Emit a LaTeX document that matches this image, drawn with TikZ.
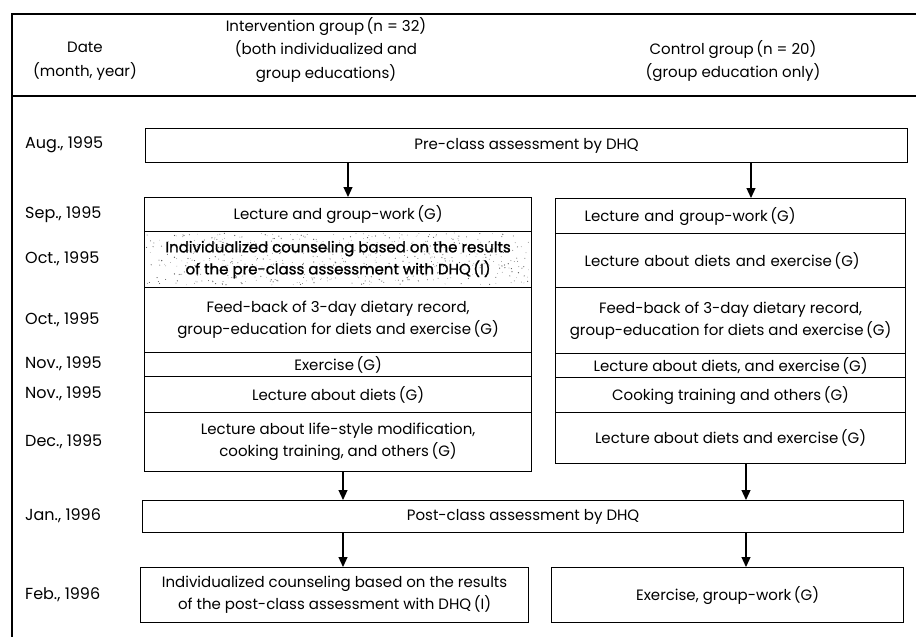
\documentclass[tikz,border=0pt]{standalone}
\usepackage{fontspec}
\setmainfont{Poppins}
\newfontfamily\heavyface[FakeBold=1.2]{Poppins}
\usetikzlibrary{arrows.meta,calc}

\tikzset{
  rule/.style={line width=1.3pt},
  cell/.style={draw, line width=1.2pt, anchor=north west, inner sep=0pt,
    align=center, font=\fontsize{15}{22}\selectfont},
  datelbl/.style={anchor=west, inner sep=0pt, font=\fontsize{16}{18}\selectfont},
  head/.style={align=center, inner sep=0pt, font=\fontsize{15}{23.5}\selectfont},
  arr/.style={line width=1.2pt, -{Triangle[width=9pt,length=10pt]}},
}

\begin{document}
\begin{tikzpicture}[x=1pt, y=-1pt]
\useasboundingbox (0,0) rectangle (916,637);

% frame of the table
\draw[rule] (12,637) -- (12,14) -- (916,14);
\draw[rule] (12,96) -- (916,96);

% column headings
\node[head] (hdate) at (85,61) {Date\\(month, year)};
\node[head] (hint) at (326,50) {Intervention group\,(n = 32)\\(both individualized and\\group educations)};
\node[head] (hctl) at (733,61) {Control group\,(n = 20)\\(group education only)};

% dates
\node[datelbl] (d1) at (25,145) {Aug., 1995};
\node[datelbl] (d2) at (25,215) {Sep., 1995};
\node[datelbl] (d3) at (25,259) {Oct., 1995};
\node[datelbl] (d4) at (25,320) {Oct., 1995};
\node[datelbl] (d5) at (25,364) {Nov., 1995};
\node[datelbl] (d6) at (25,394) {Nov., 1995};
\node[datelbl] (d7) at (25,442) {Dec., 1995};
\node[datelbl] (d8) at (25,516) {Jan., 1996};
\node[datelbl] (d9) at (25,595) {Feb., 1996};

% shared assessments
\node[cell, minimum width=762pt, minimum height=34pt] (pre) at (145,128) {Pre-class assessment by DHQ};
\node[cell, minimum width=761pt, minimum height=32pt] (post) at (142,500) {Post-class assessment by DHQ};

% intervention group sessions
\node[cell, minimum width=387pt, minimum height=34pt] (l1) at (144,197) {Lecture and group-work\,(G)};
\node[cell, minimum width=387pt, minimum height=56pt] (l2) at (144,231) {};
\node[cell, minimum width=387pt, minimum height=65pt] (l3) at (144,287) {Feed-back of 3-day dietary record,\\group-education for diets and exercise\,(G)};
\node[cell, minimum width=387pt, minimum height=24pt] (l4) at (144,352) {Exercise\,(G)};
\node[cell, minimum width=387pt, minimum height=36pt] (l5) at (144,376) {Lecture about diets\,(G)};
\node[cell, minimum width=387pt, minimum height=59pt] (l6) at (144,412) {Lecture about life-style modification,\\cooking training, and others\,(G)};

% grain in the counseling cell
\begin{scope}
\pgfmathsetseed{4217}
\foreach \k in {1,...,600}{
  \pgfmathsetmacro{\px}{146+383*rnd}
  \pgfmathsetmacro{\py}{233+52*rnd}
  \pgfmathsetmacro{\pr}{0.25+0.4*rnd}
  \fill[black!65] (\px,\py) circle (\pr pt);
}
\end{scope}
\node[align=center, inner sep=0pt, font=\heavyface\fontsize{15}{22}\selectfont] (l2txt) at (l2.center)
  {Individualized counseling based on the results\\of the pre-class assessment with DHQ\,(I)};

% control group sessions
\node[cell, minimum width=350pt, minimum height=35pt, align=left, text width=292pt] (r1) at (555,198) {Lecture and group-work\,(G)};
\node[cell, minimum width=350pt, minimum height=54pt, align=left, text width=292pt] (r2) at (555,233) {Lecture about diets and exercise\,(G)};
\node[cell, minimum width=350pt, minimum height=66pt] (r3) at (555,287) {Feed-back of 3-day dietary record,\\group-education for diets and exercise\,(G)};
\node[cell, minimum width=350pt, minimum height=24pt] (r4) at (555,353) {Lecture about diets, and exercise\,(G)};
\node[cell, minimum width=350pt, minimum height=35pt] (r5) at (555,377) {Cooking training and others\,(G)};
\node[cell, minimum width=350pt, minimum height=51pt] (r6) at (555,412) {Lecture about diets and exercise\,(G)};

% final sessions
\node[cell, minimum width=388pt, minimum height=55pt] (b1) at (140,567) {Individualized counseling based on the results\\of the post-class assessment with DHQ\,(I)};
\node[cell, minimum width=352pt, minimum height=55pt] (b2) at (551,567) {Exercise, group-work\,(G)};

% flow arrows
\coordinate (ax1) at (348,0);
\coordinate (ax2) at (751,0);
\coordinate (ax3) at (343,0);
\coordinate (ax4) at (746,0);
\draw[arr] (pre.south -| ax1) -- (l1.north -| ax1);
\draw[arr] (pre.south -| ax2) -- (r1.north -| ax2);
\draw[arr] (l6.south -| ax3) -- (post.north -| ax3);
\draw[arr] (r6.south -| ax4) -- (post.north -| ax4);
\draw[arr] (post.south -| ax3) -- (b1.north -| ax3);
\draw[arr] (post.south -| ax4) -- (b2.north -| ax4);
\end{tikzpicture}
\end{document}
